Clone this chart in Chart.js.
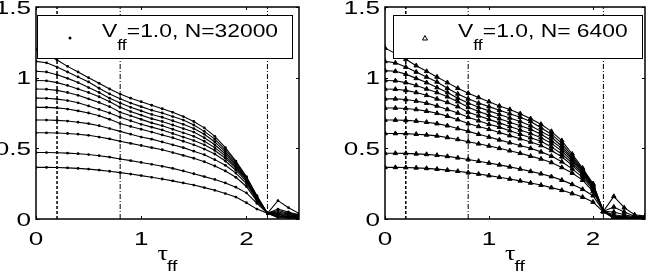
<!DOCTYPE html>
<html>
<head>
<meta charset="utf-8">
<script src="https://cdn.jsdelivr.net/npm/chart.js@4/dist/chart.umd.min.js"></script>
<style>
  html, body { margin: 0; padding: 0; background: #fff; }
  body { width: 650px; height: 274px; position: relative; overflow: hidden; }
  .panel { position: absolute; top: 0; width: 325px; height: 274px; }
</style>
</head>
<body>
<div class="panel" style="left:0"><canvas id="left" width="325" height="274"></canvas></div>
<div class="panel" style="left:325px"><canvas id="right" width="325" height="274"></canvas></div>
<script>
// tau_ff sample points (shared by both panels)
const tau = [0, 0.1, 0.2, 0.3, 0.4, 0.5, 0.6, 0.7, 0.8, 0.9, 1.0, 1.1, 1.2,
             1.3, 1.4, 1.5, 1.6, 1.7, 1.8, 1.9, 2.0, 2.1, 2.2, 2.3, 2.4, 2.5];

// V_ff = 1.0, N = 32000 — one row per curve, top to bottom
const n32000 = [
  [1.20,1.165,1.125,1.08,1.04,1.00,0.96,0.92,0.885,0.855,0.83,0.805,0.78,0.755,0.725,0.69,0.645,0.585,0.505,0.41,0.30,0.165,0.04,0.13,0.08,0.04],
  [1.115,1.105,1.075,1.04,1.005,0.97,0.925,0.885,0.85,0.82,0.795,0.77,0.75,0.725,0.70,0.665,0.62,0.565,0.49,0.40,0.295,0.16,0.04,0.07,0.05,0.03],
  [1.045,1.04,1.02,0.995,0.965,0.93,0.895,0.855,0.82,0.79,0.765,0.74,0.72,0.695,0.67,0.64,0.60,0.545,0.475,0.39,0.29,0.155,0.04,0.06,0.04,0.03],
  [0.98,0.978,0.965,0.945,0.92,0.895,0.865,0.83,0.79,0.76,0.735,0.71,0.69,0.665,0.64,0.615,0.575,0.525,0.46,0.38,0.285,0.15,0.04,0.05,0.035,0.025],
  [0.92,0.918,0.91,0.895,0.875,0.85,0.825,0.795,0.755,0.73,0.705,0.68,0.66,0.635,0.61,0.585,0.55,0.505,0.445,0.37,0.28,0.145,0.04,0.04,0.03,0.02],
  [0.855,0.854,0.848,0.838,0.822,0.80,0.775,0.75,0.72,0.695,0.67,0.65,0.63,0.605,0.58,0.555,0.525,0.485,0.43,0.36,0.275,0.14,0.04,0.035,0.025,0.02],
  [0.79,0.79,0.786,0.778,0.765,0.75,0.73,0.705,0.675,0.655,0.635,0.615,0.595,0.575,0.55,0.525,0.495,0.46,0.41,0.345,0.265,0.14,0.04,0.03,0.02,0.015],
  [0.70,0.70,0.698,0.693,0.685,0.675,0.66,0.64,0.62,0.60,0.58,0.565,0.545,0.525,0.505,0.48,0.455,0.42,0.38,0.325,0.25,0.135,0.04,0.025,0.015,0.01],
  [0.61,0.61,0.609,0.605,0.60,0.592,0.58,0.567,0.55,0.535,0.52,0.505,0.49,0.47,0.45,0.43,0.405,0.375,0.34,0.295,0.23,0.125,0.04,0.02,0.012,0.008],
  [0.47,0.47,0.469,0.466,0.462,0.456,0.448,0.438,0.425,0.413,0.40,0.387,0.373,0.358,0.34,0.32,0.30,0.28,0.255,0.225,0.185,0.11,0.04,0.015,0.01,0.005],
  [0.365,0.365,0.364,0.362,0.358,0.353,0.346,0.338,0.328,0.318,0.307,0.295,0.283,0.27,0.255,0.24,0.222,0.203,0.18,0.155,0.115,0.07,0.04,0.01,0.008,0.005]
];

// V_ff = 1.0, N = 6400
const n6400 = [
  [1.21,1.17,1.13,1.085,1.045,1.005,0.965,0.925,0.89,0.86,0.83,0.80,0.775,0.745,0.71,0.67,0.62,0.555,0.46,0.36,0.25,0.055,0.16,0.08,0.03,0.02],
  [1.115,1.105,1.075,1.04,1.005,0.97,0.925,0.885,0.85,0.82,0.795,0.77,0.745,0.72,0.69,0.645,0.60,0.535,0.445,0.35,0.245,0.055,0.085,0.05,0.02,0.015],
  [1.05,1.045,1.025,0.995,0.965,0.93,0.895,0.855,0.82,0.79,0.765,0.74,0.715,0.69,0.66,0.62,0.58,0.515,0.43,0.345,0.24,0.055,0.05,0.03,0.015,0.01],
  [0.98,0.978,0.965,0.945,0.92,0.895,0.865,0.83,0.79,0.76,0.735,0.71,0.685,0.66,0.635,0.60,0.555,0.50,0.42,0.34,0.235,0.055,0.03,0.02,0.01,0.01],
  [0.92,0.918,0.91,0.895,0.875,0.85,0.825,0.795,0.755,0.73,0.705,0.68,0.655,0.63,0.605,0.575,0.535,0.48,0.41,0.33,0.23,0.055,0.02,0.015,0.01,0.008],
  [0.85,0.85,0.845,0.835,0.82,0.80,0.775,0.75,0.72,0.695,0.67,0.65,0.625,0.60,0.575,0.55,0.51,0.46,0.395,0.32,0.225,0.055,0.015,0.01,0.008,0.005],
  [0.785,0.785,0.782,0.775,0.763,0.748,0.728,0.703,0.675,0.655,0.635,0.612,0.59,0.568,0.545,0.52,0.485,0.44,0.38,0.31,0.22,0.055,0.012,0.008,0.005,0.005],
  [0.70,0.70,0.698,0.693,0.685,0.675,0.66,0.64,0.62,0.60,0.58,0.56,0.54,0.52,0.50,0.475,0.445,0.405,0.355,0.295,0.21,0.055,0.01,0.006,0.004,0.004],
  [0.605,0.605,0.604,0.60,0.595,0.588,0.577,0.563,0.547,0.532,0.517,0.50,0.483,0.465,0.445,0.425,0.40,0.365,0.325,0.275,0.195,0.055,0.008,0.005,0.004,0.003],
  [0.465,0.465,0.464,0.461,0.457,0.451,0.443,0.433,0.421,0.409,0.396,0.383,0.369,0.354,0.337,0.32,0.30,0.275,0.245,0.21,0.165,0.055,0.006,0.004,0.003,0.003],
  [0.365,0.365,0.364,0.362,0.358,0.353,0.346,0.338,0.328,0.318,0.307,0.295,0.283,0.27,0.255,0.24,0.222,0.203,0.18,0.155,0.12,0.05,0.005,0.004,0.003,0.003]
];

// vertical marker lines (tau positions)
const marks32000 = [0.2, 0.8, 2.2];
const marks6400 = [0.2, 0.8, 2.1];

// axis ticks
const xTicks = [0, 1, 2];
const yTicks = [0, 0.5, 1, 1.5];

const legend32000 = ['V', 'ff', '=1.0, N=32000'];
const legend6400 = ['V', 'ff', '=1.0, N= 6400'];

// ---------------------------------------------------------------------------
const SANS = '"Liberation Sans", Arial, sans-serif';
const SERIF = '"Liberation Serif", "DejaVu Serif", serif';

// the source figure's text is stretched horizontally, so squash-draw it
function wideText(ctx, str, x, y, size, family, align, sx) {
  ctx.save();
  ctx.font = size + 'px ' + family;
  const w = ctx.measureText(str).width * sx;
  const x0 = align === 'center' ? x - w / 2 : align === 'right' ? x - w : x;
  ctx.translate(x0, y);
  ctx.scale(sx, 1);
  ctx.textAlign = 'left';
  ctx.textBaseline = 'alphabetic';
  ctx.fillStyle = '#000';
  ctx.fillText(str, 0, 0);
  ctx.restore();
  return w;
}

// MATLAB-ish frame: box, inward ticks, tick labels, x title, legend box
const frame = {
  id: 'frame',
  afterDraw(chart, args, opts) {
    const ctx = chart.ctx;
    const { left, right, top, bottom } = chart.chartArea;
    const xs = chart.scales.x, ys = chart.scales.y;
    ctx.save();
    ctx.strokeStyle = '#000';
    ctx.lineWidth = 1.5;
    ctx.strokeRect(left, top, right - left, bottom - top);
    ctx.lineWidth = 1;
    ctx.beginPath();
    xTicks.forEach(v => {
      const px = Math.round(xs.getPixelForValue(v)) + 0.5;
      ctx.moveTo(px, bottom); ctx.lineTo(px, bottom - 3);
      ctx.moveTo(px, top); ctx.lineTo(px, top + 3);
    });
    yTicks.forEach(v => {
      const py = Math.round(ys.getPixelForValue(v)) + 0.5;
      ctx.moveTo(left, py); ctx.lineTo(left + 3, py);
      ctx.moveTo(right, py); ctx.lineTo(right - 3, py);
    });
    ctx.stroke();

    // tick labels
    xTicks.forEach(v => wideText(ctx, String(v), xs.getPixelForValue(v), 245, 18, SANS, 'center', 1.45));
    yTicks.forEach(v => wideText(ctx, String(v), left - 5, ys.getPixelForValue(v) + 6.5, 18, SANS, 'right', 1.45));

    // x title: tau_ff
    const cx = (left + right) / 2 - 4;
    const wt = wideText(ctx, '\u03c4', cx - 6, 260, 20, SERIF, 'left', 1.3);
    wideText(ctx, 'ff', cx - 6 + wt - 1, 271, 15, SANS, 'left', 1.3);

    // legend
    const lg = opts.legend;
    ctx.fillStyle = '#fff';
    ctx.fillRect(lg.x, 15, lg.w, 43);
    ctx.strokeStyle = '#000';
    ctx.lineWidth = 1;
    ctx.strokeRect(lg.x + 0.5, 15.5, lg.w, 43);
    ctx.fillStyle = '#000';
    if (lg.marker === 'circle') {
      ctx.beginPath(); ctx.arc(lg.mx, 38, 1.5, 0, Math.PI * 2); ctx.fill();
    } else {
      ctx.beginPath();
      ctx.moveTo(lg.mx, 35.5); ctx.lineTo(lg.mx + 2.5, 40); ctx.lineTo(lg.mx - 2.5, 40);
      ctx.closePath(); ctx.stroke();
    }
    let tx = lg.tx;
    tx += wideText(ctx, lg.text[0], tx, 37, 18, SANS, 'left', 1.27);
    tx += wideText(ctx, lg.text[1], tx, 50, 14, SANS, 'left', 1.27);
    wideText(ctx, lg.text[2], tx, 37, 18, SANS, 'left', 1.27);
    ctx.restore();
  }
};

function buildDatasets(series, marks, style) {
  const sets = series.map(row => ({
    data: tau.map((t, i) => ({ x: t, y: row[i] })),
    borderColor: '#000',
    backgroundColor: '#000',
    borderWidth: 1.1,
    pointStyle: style,
    pointRadius: style === 'circle' ? 1.4 : 2.6,
    pointBorderWidth: style === 'circle' ? 0 : 1,
    pointBorderColor: '#000',
    pointBackgroundColor: '#000',
    tension: 0
  }));
  const dashes = [[3, 2], [5, 2, 1, 2], [5, 2, 1, 2]];
  const widths = [1.5, 1, 1];
  marks.forEach((m, k) => sets.push({
    data: [{ x: m, y: 0 }, { x: m, y: 1.5 }],
    borderColor: '#000',
    borderWidth: widths[k],
    borderDash: dashes[k],
    pointRadius: 0,
    tension: 0
  }));
  return sets;
}

function makePanel(id, series, marks, style, axisLeft, padRight, legend) {
  new Chart(document.getElementById(id), {
    type: 'line',
    data: { datasets: buildDatasets(series, marks, style) },
    options: {
      responsive: false,
      animation: false,
      devicePixelRatio: 1,
      layout: { padding: { top: 7, right: padRight, left: 0, bottom: 0 } },
      plugins: { legend: { display: false }, tooltip: { enabled: false }, frame: { legend } },
      scales: {
        x: {
          type: 'linear', min: 0, max: 2.5,
          ticks: { display: false, stepSize: 1 },
          grid: { display: false }, border: { display: false },
          afterFit: s => { s.height = 55; }
        },
        y: {
          type: 'linear', min: 0, max: 1.5,
          ticks: { display: false, stepSize: 0.5 },
          grid: { display: false }, border: { display: false },
          afterFit: s => { s.width = axisLeft; }
        }
      }
    },
    plugins: [frame]
  });
}

makePanel('left', n32000, marks32000, 'circle', 36, 26,
  { x: 37, w: 255, mx: 70, tx: 102, marker: 'circle', text: legend32000 });
makePanel('right', n6400, marks6400, 'triangle', 60, 2,
  { x: 68, w: 249, mx: 100, tx: 133, marker: 'triangle', text: legend6400 });
</script>
</body>
</html>
